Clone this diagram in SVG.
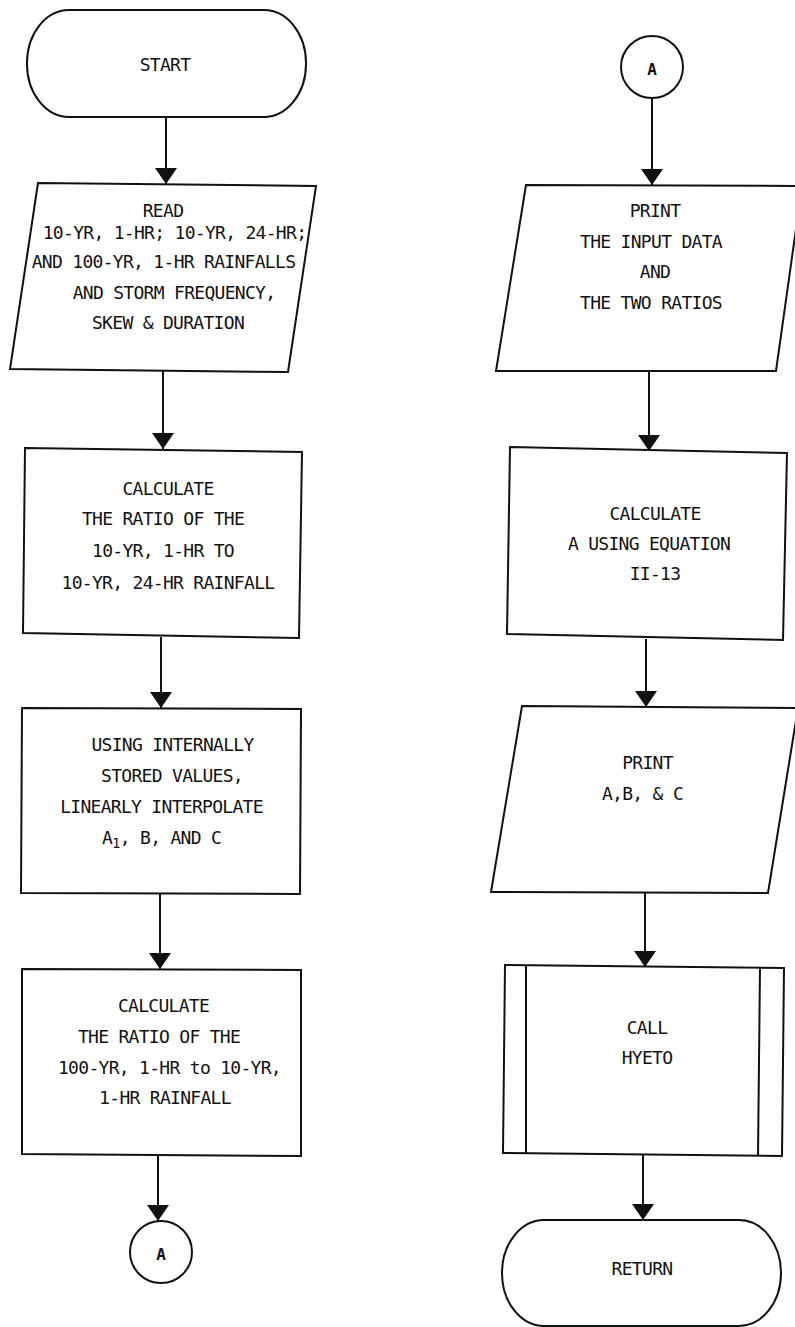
<svg xmlns="http://www.w3.org/2000/svg" width="795" height="1327" viewBox="0 0 795 1327">
  <style>
    .shape { fill: #ffffff; stroke: #111111; stroke-width: 2; stroke-linejoin: miter; }
    .edge { fill: none; stroke: #111111; stroke-width: 2; }
    .label { font-family: "DejaVu Sans Mono", "Liberation Mono", monospace; font-size: 18px; letter-spacing: -0.7px; fill: #111111; text-anchor: middle; }
    .conn { font-family: "DejaVu Sans Mono", "Liberation Mono", monospace; font-size: 16px; font-weight: bold; fill: #111111; text-anchor: middle; }
  </style>
  <defs>
    <marker id="arrow" markerUnits="userSpaceOnUse" markerWidth="16" markerHeight="22" viewBox="0 0 16 22" refX="16" refY="11" orient="auto">
      <path d="M0,0 L16,11 L0,22 z" fill="#111111"/>
    </marker>
  </defs>
  <rect width="795" height="1327" fill="#ffffff"/>

  <!-- left column -->
  <g id="start">
    <rect class="shape" x="27" y="10" width="279" height="107" rx="42" ry="53"/>
    <text class="label" x="165" y="71">START</text>
  </g>

  <g id="read">
    <polygon class="shape" points="38,183 316,186 288,372 10,369"/>
    <text class="label" x="163" y="217">READ</text>
    <text class="label" x="174.5" y="239">10-YR, 1-HR; 10-YR, 24-HR;</text>
    <text class="label" x="163.5" y="268">AND 100-YR, 1-HR RAINFALLS</text>
    <text class="label" x="174" y="299">AND STORM FREQUENCY,</text>
    <text class="label" x="168" y="329">SKEW &amp; DURATION</text>
  </g>

  <g id="calc-ratio-24hr">
    <polygon class="shape" points="25,448 302,452 299,638 23,633"/>
    <text class="label" x="168" y="495">CALCULATE</text>
    <text class="label" x="163" y="525">THE RATIO OF THE</text>
    <text class="label" x="163" y="557">10-YR, 1-HR TO</text>
    <text class="label" x="168" y="589">10-YR, 24-HR RAINFALL</text>
  </g>

  <g id="interpolate">
    <polygon class="shape" points="22,708 301,709 300,894 21,893"/>
    <text class="label" x="172.5" y="751">USING INTERNALLY</text>
    <text class="label" x="172" y="782">STORED VALUES,</text>
    <text class="label" x="161.5" y="813">LINEARLY INTERPOLATE</text>
    <text class="label" x="161.5" y="844">A<tspan font-size="14" dy="4">1</tspan><tspan dy="-4">, B, AND C</tspan></text>
  </g>

  <g id="calc-ratio-100yr">
    <polygon class="shape" points="22,969 301,970 301,1156 22,1154"/>
    <text class="label" x="163.5" y="1012">CALCULATE</text>
    <text class="label" x="159" y="1043">THE RATIO OF THE</text>
    <text class="label" x="169.5" y="1074">100-YR, 1-HR to 10-YR,</text>
    <text class="label" x="165" y="1104">1-HR RAINFALL</text>
  </g>

  <g id="connector-a-out">
    <circle class="shape" cx="161" cy="1252" r="31"/>
    <text class="conn" x="161" y="1260">A</text>
  </g>

  <!-- right column -->
  <g id="connector-a-in">
    <circle class="shape" cx="652" cy="67" r="31"/>
    <text class="conn" x="652" y="75">A</text>
  </g>

  <g id="print-input">
    <polygon class="shape" points="526,185 802,186 776,371 496,371"/>
    <text class="label" x="655" y="217">PRINT</text>
    <text class="label" x="651" y="248">THE INPUT DATA</text>
    <text class="label" x="655" y="278">AND</text>
    <text class="label" x="651" y="309">THE TWO RATIOS</text>
  </g>

  <g id="calc-a">
    <polygon class="shape" points="510,447 787,453 783,640 507,634"/>
    <text class="label" x="655" y="520">CALCULATE</text>
    <text class="label" x="649" y="550">A USING EQUATION</text>
    <text class="label" x="655" y="580">II-13</text>
  </g>

  <g id="print-abc">
    <polygon class="shape" points="522,706 798,708 768,893 491,892"/>
    <text class="label" x="647.5" y="769">PRINT</text>
    <text class="label" x="642.5" y="800">A,B, &amp; C</text>
  </g>

  <g id="call-hyeto">
    <polygon class="shape" points="505,965 784,968 782,1156 503,1153"/>
    <line class="edge" x1="526" y1="966" x2="526" y2="1154"/>
    <line class="edge" x1="760" y1="968" x2="758" y2="1156"/>
    <text class="label" x="647" y="1034">CALL</text>
    <text class="label" x="647" y="1064">HYETO</text>
  </g>

  <g id="return">
    <rect class="shape" x="502" y="1220" width="279" height="106" rx="42" ry="53"/>
    <text class="label" x="642" y="1275">RETURN</text>
  </g>

  <!-- flow lines -->
  <g id="connectors">
    <line class="edge" x1="166" y1="117" x2="166" y2="184" marker-end="url(#arrow)"/>
    <line class="edge" x1="163" y1="371" x2="163" y2="449" marker-end="url(#arrow)"/>
    <line class="edge" x1="161" y1="637" x2="161" y2="708" marker-end="url(#arrow)"/>
    <line class="edge" x1="160" y1="894" x2="160" y2="969" marker-end="url(#arrow)"/>
    <line class="edge" x1="158" y1="1155" x2="158" y2="1221" marker-end="url(#arrow)"/>
    <line class="edge" x1="652" y1="98" x2="652" y2="185" marker-end="url(#arrow)"/>
    <line class="edge" x1="649" y1="371" x2="649" y2="451" marker-end="url(#arrow)"/>
    <line class="edge" x1="646" y1="639" x2="646" y2="707" marker-end="url(#arrow)"/>
    <line class="edge" x1="645" y1="893" x2="645" y2="967" marker-end="url(#arrow)"/>
    <line class="edge" x1="643" y1="1155" x2="643" y2="1220" marker-end="url(#arrow)"/>
  </g>
</svg>
